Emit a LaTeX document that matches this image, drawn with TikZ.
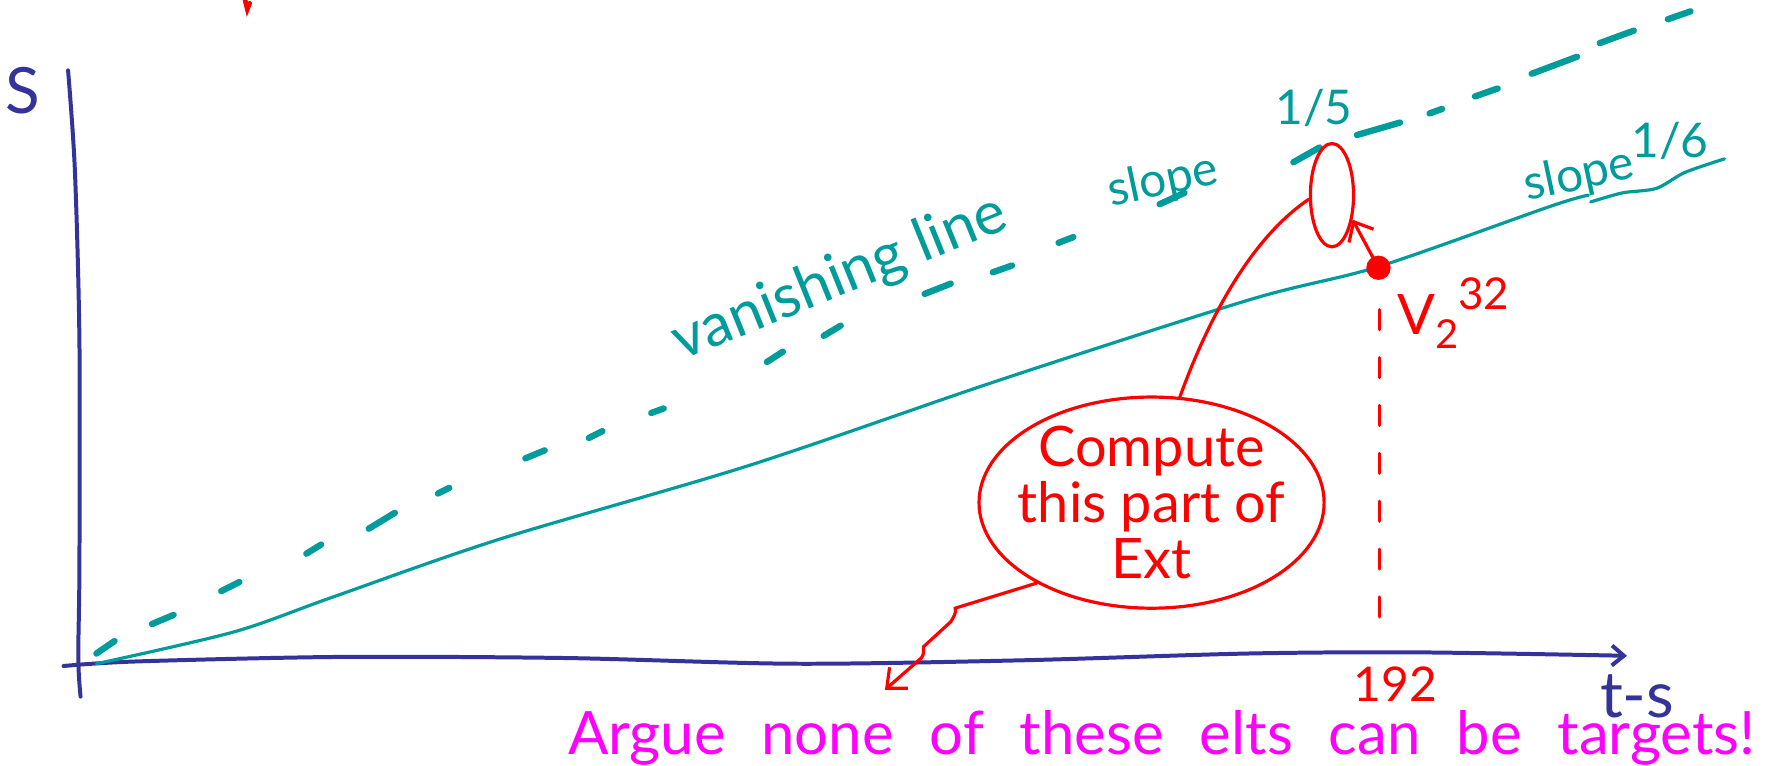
\documentclass[tikz,border=0pt]{standalone}
\usepackage{fontspec}
\setmainfont{Lato}
\usepackage{tikz}
\usetikzlibrary{positioning, arrows.meta, shapes.geometric, calc}
\definecolor{axisblue}{HTML}{333399}
\definecolor{vanteal}{HTML}{009B9B}
\definecolor{notered}{HTML}{FF0000}
\definecolor{argmagenta}{HTML}{FF00FF}

\begin{document}
\begin{tikzpicture}[
    x=0.01cm, y=-0.01cm,
    axisline/.style={draw=axisblue, line width=1pt, line cap=round},
    curveline/.style={draw=vanteal, line width=0.8pt, line cap=round},
    vandash/.style={draw=vanteal, line width=1.6pt, line cap=round},
    redline/.style={draw=notered, line width=0.8pt, line cap=round},
    redarrow/.style={->, draw=notered, line width=0.8pt, line cap=round, >={Straight Barb[length=4pt, width=7pt]}},
    handtext/.style={font=\fontsize{#1}{#1}\selectfont, inner sep=0pt}
  ]
  \useasboundingbox (0,0) rectangle (1568,675);
  % Axes
  \draw[axisline] plot[smooth] coordinates {(60,62) (66,150) (70,300) (70,500) (69,580) (71,614)};
  \draw[axisline, ->, >={Straight Barb[length=3pt, width=5pt]}] plot[smooth] coordinates
    {(56,587) (120,583) (300,579) (500,580) (700,585) (900,582) (1100,576) (1250,575) (1434,578)};
  \node[handtext=16, text=axisblue] (slab) at (20,80) {S};
  \node[handtext=16, text=axisblue] (tslab) at (1443,614) {t-s};
  \draw[redline, line width=1.2pt] (216,0) -- (218,8) -- (220,3);

  % Vanishing line, dashed by hand
  \draw[vandash] (85,576) -- (101,565) (134,550) -- (153,542) (195,521) -- (211,513)
    (270,488) -- (283,480) (325,466) -- (348,452) (386,435) -- (396,430)
    (463,404) -- (480,397) (519,386) -- (531,380) (574,364) -- (585,360)
    (676,319) -- (690,310) (726,296) -- (741,287) (815,259) -- (838,250)
    (875,240) -- (892,234) (933,214) -- (946,209) (1022,180) -- (1044,170)
    (1140,143) -- (1163,130) (1196,119) -- (1234,108) (1260,100) -- (1271,96)
    (1300,85) -- (1320,78) (1350,65) -- (1390,50) (1410,38) -- (1440,27) (1470,17) -- (1490,10);
  \node[handtext=15, text=vanteal, rotate=22, anchor=base west] (vanlab) at (600,318) {vanishing line};
  \node[handtext=12, text=vanteal, rotate=12] (slopeup) at (1025,160) {slope};
  \node[handtext=12, text=vanteal] (fifth) at (1158,95) {1/5};

  % Curve of slope 1/6
  \draw[curveline] plot[smooth] coordinates {(85,585) (206,557) (294,526) (441,475) (661,410)
    (881,335) (1102,264) (1215,235) (1366,182) (1400,172)};
  \draw[curveline] plot[smooth] coordinates {(1402,178) (1430,170) (1460,166) (1485,152) (1520,140)};
  \node[handtext=12, text=vanteal, rotate=12] (slopelow) at (1392,155) {slope};
  \node[handtext=12, text=vanteal] (sixth) at (1472,124) {1/6};

  % Target element and the part to compute
  \node[ellipse, draw=notered, line width=0.8pt, minimum width=0.38cm, minimum height=0.91cm, inner sep=0pt] (target) at (1174,172) {};
  \node[circle, draw=notered, fill=notered, minimum size=0.2cm, inner sep=0pt] (dot) at (1215,236) {};
  \draw[redarrow] (dot) -- (target.-50);
  \node[ellipse, draw=notered, line width=0.8pt, minimum width=3.04cm, minimum height=1.86cm, inner sep=0pt] (bubble) at (1015,443) {};
  \node[handtext=14, text=notered, align=center] (bubtext) at (bubble.center) {Compute\\this part of\\Ext};
  \draw[redline] (bubble.75) .. controls (1058,300) and (1095,215) .. (target.190);
  % V_2^32 and the drop to 192
  \node[handtext=14, text=notered, anchor=base west] (vlab) at (1231,295)
    {V\raisebox{-0.25em}{\fontsize{10}{10}\selectfont 2}\raisebox{0.45em}{\fontsize{11}{11}\selectfont 32}};
  \coordinate (droptop) at (1216,273);
  \coordinate (dropbot) at (1216,565);
  \draw[redline, dash pattern=on 5pt off 7pt] (droptop) -- (dropbot);
  \node[handtext=12, text=notered, anchor=base] (tick) at (1230,618) {192};

  % Argument about targets
  \coordinate (argtip) at (780,608);
  \draw[redarrow] (bubble.215) -- (842,536) to[out=-80,in=60] (838,548) -- (814,570)
    to[out=-90,in=50] (812,580) -- (argtip);
  \node[handtext=15, text=argmagenta, anchor=base west] (argue) at (500,665)
    {\spaceskip=0.6em\relax Argue none of these elts can be targets!};
\end{tikzpicture}
\end{document}
